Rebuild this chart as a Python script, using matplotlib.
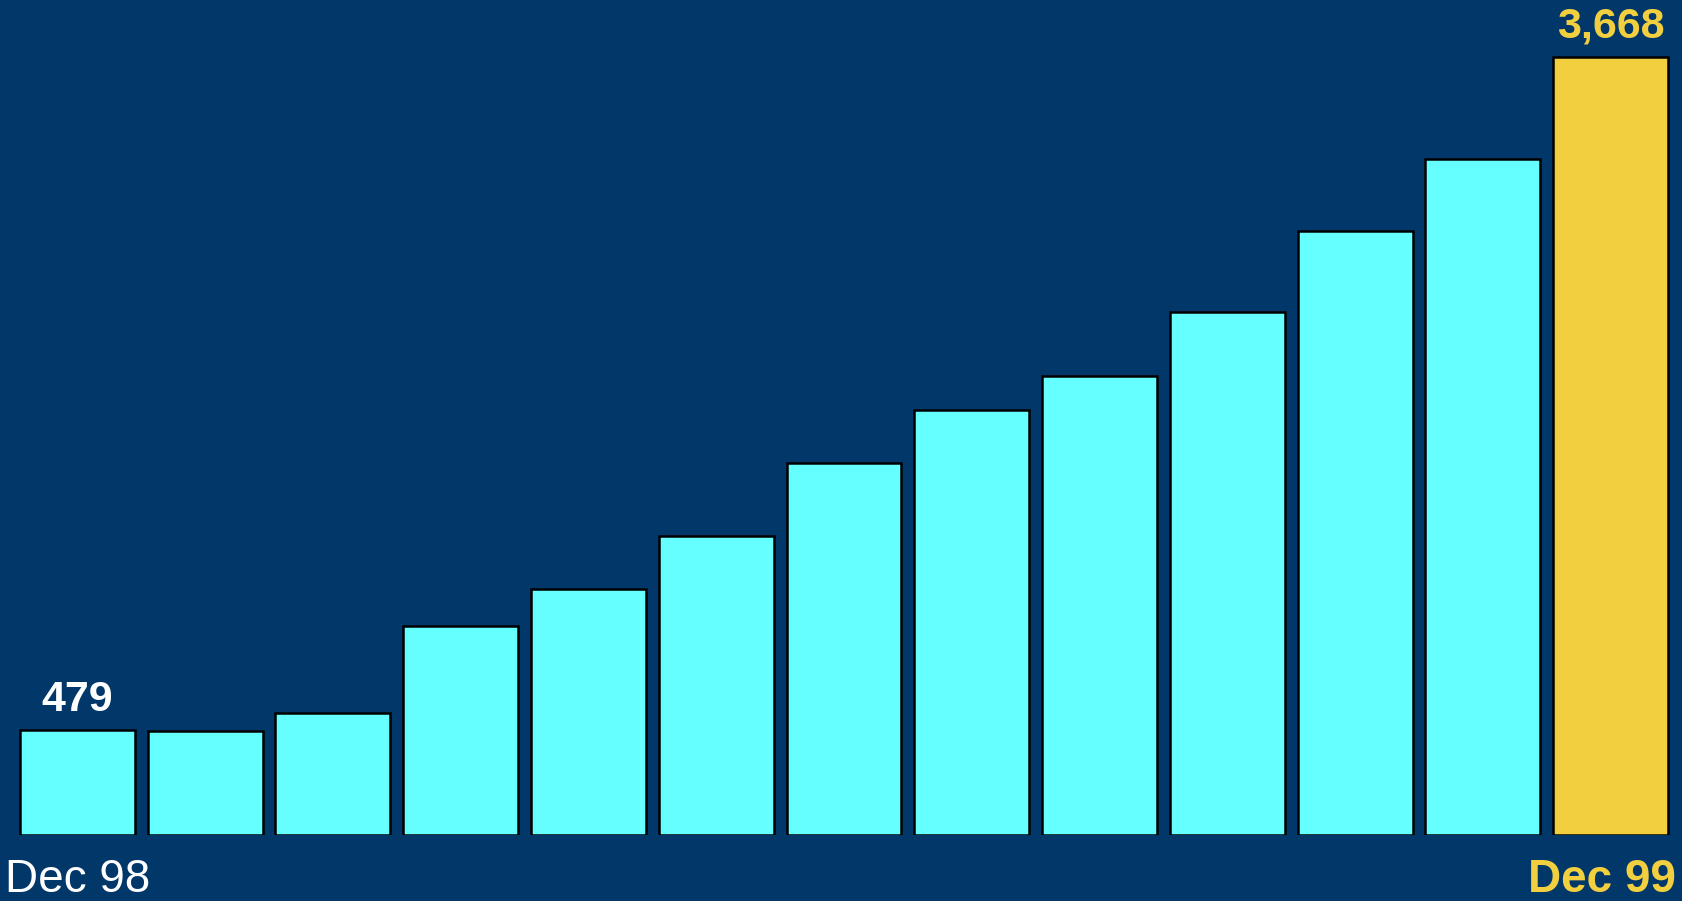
import numpy as np
import matplotlib.pyplot as plt

plt.rcParams['font.family'] = ['Liberation Sans', 'DejaVu Sans']

# monthly totals, Dec 98 .. Dec 99
months = ['Dec 98', 'Jan 99', 'Feb 99', 'Mar 99', 'Apr 99', 'May 99', 'Jun 99',
          'Jul 99', 'Aug 99', 'Sep 99', 'Oct 99', 'Nov 99', 'Dec 99']
values = [479, 475, 560, 972, 1148, 1399, 1745, 1996, 2157, 2460, 2844, 3185, 3668]

bg = '#02376A'
cyan = '#66FFFF'
gold = '#F2CF3E'

W, H = 1683, 901
fig = plt.figure(figsize=(W / 100, H / 100), dpi=100, facecolor=bg)

# axes sized in pixels so the bars line up with the slide layout
left_px, right_px = 13.6, 1674.4
base_px, top_bar_px = 835, 57
y_floor = -18  # value axis does not start exactly at zero
px_per_unit = (base_px - top_bar_px) / (values[-1] - y_floor)
ax = fig.add_axes([left_px / W, (H - base_px) / H,
                   (right_px - left_px) / W, base_px / H])
ax.set_facecolor(bg)
ax.set_xlim(-0.5, len(values) - 0.5)
ax.set_ylim(y_floor, y_floor + base_px / px_per_unit)
ax.axis('off')

x = np.arange(len(values))
colors = [cyan] * (len(values) - 1) + [gold]
ax.bar(x, np.array(values) - y_floor, bottom=y_floor, width=0.9, color=colors,
       edgecolor='black', linewidth=1.8)

ax.annotate(f'{values[0]:,}', (x[0], values[0]), xytext=(0, 14), textcoords='offset points',
            ha='center', va='baseline', color='white', fontsize=31, fontweight='bold')
ax.annotate(f'{values[-1]:,}', (x[-1], values[-1]), xytext=(0, 14), textcoords='offset points',
            ha='center', va='baseline', color=gold, fontsize=31, fontweight='bold')

fig.text(5 / W, (H - 892) / H, months[0], ha='left', va='baseline',
         color='white', fontsize=33)
fig.text(1676 / W, (H - 892) / H, months[-1], ha='right', va='baseline',
         color=gold, fontsize=33, fontweight='bold')

fig.savefig('out.png', dpi=100, facecolor=bg)
